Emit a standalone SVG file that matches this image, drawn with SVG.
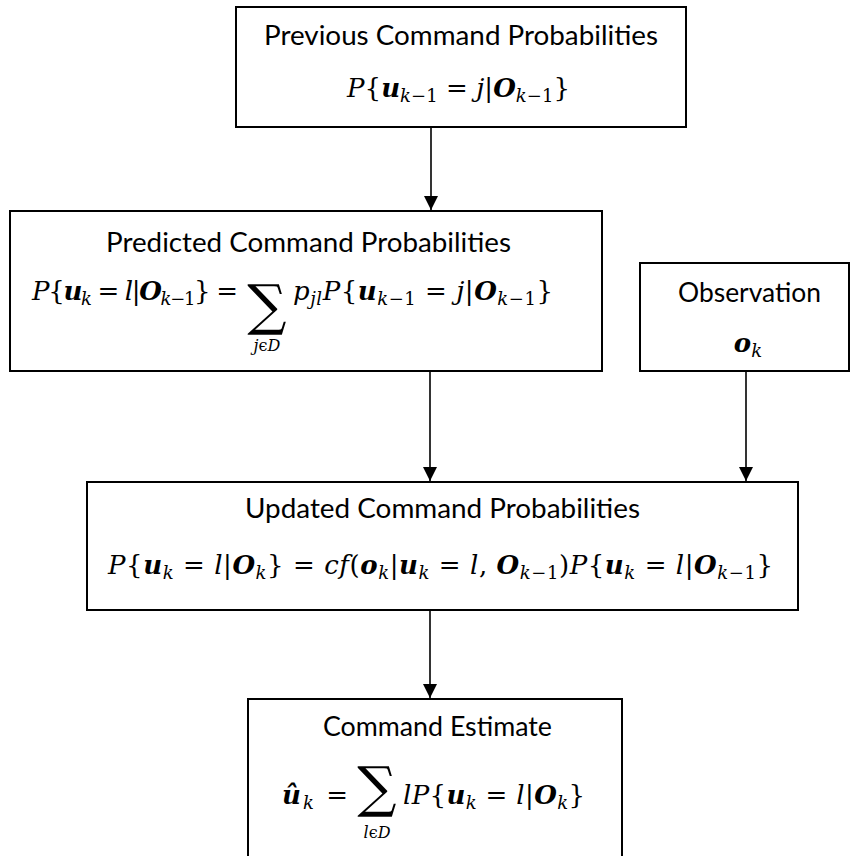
<svg xmlns="http://www.w3.org/2000/svg" width="851" height="856" viewBox="0 0 851 856">
<defs>
<marker id="arr" viewBox="0 0 14 14" refX="14" refY="7" markerWidth="14" markerHeight="14" markerUnits="userSpaceOnUse" orient="auto">
<path d="M0,0 L14,7 L0,14 Z" fill="#000"/>
</marker>
</defs>
<style>
.box{fill:#fff;stroke:#000;stroke-width:2}
.t{font-family:Lato,"Liberation Sans",Arial,sans-serif;font-size:26px;fill:#000}
.m{font-family:"DejaVu Serif","Liberation Serif",serif;font-size:26px;fill:#000}
.i{font-style:italic}
.b{font-style:italic;font-weight:bold}
.s{font-size:18px}
.sig{font-family:"DejaVu Serif","Liberation Serif",serif;font-size:55px;fill:#000}
.sd{font-family:"DejaVu Serif","Liberation Serif",serif;font-size:16px;font-style:italic;fill:#000}
.c{stroke:#000;stroke-width:1.6;fill:none;marker-end:url(#arr)}
</style>
<g id="connectors">
<line class="c" x1="431" y1="127" x2="431" y2="210"/>
<line class="c" x1="430" y1="371" x2="430" y2="481"/>
<line class="c" x1="746" y1="371" x2="746" y2="481"/>
<line class="c" x1="430" y1="610" x2="430" y2="698"/>
</g>
<g id="previous">
<rect class="box" x="236" y="7" width="450" height="120"/>
<text class="t" x="264" y="45" textLength="394" lengthAdjust="spacingAndGlyphs">Previous Command Probabilities</text>
<text class="m" x="347" y="97" textLength="223" lengthAdjust="spacing"><tspan class="i">P</tspan>{<tspan class="b">u</tspan><tspan class="s" dy="5"><tspan class="i">k</tspan>−1</tspan><tspan dy="-5"> = </tspan><tspan class="i">j</tspan>|<tspan class="b">O</tspan><tspan class="s" dy="5"><tspan class="i">k</tspan>−1</tspan><tspan dy="-5">}</tspan></text>
</g>
<g id="predicted">
<rect class="box" x="10" y="211" width="592" height="160"/>
<text class="t" x="106" y="252" textLength="405" lengthAdjust="spacingAndGlyphs">Predicted Command Probabilities</text>
<text class="m" x="32" y="300" textLength="206" lengthAdjust="spacing"><tspan class="i">P</tspan>{<tspan class="b">u</tspan><tspan class="s i" dy="5">k</tspan><tspan dy="-5"> = </tspan><tspan class="i">l</tspan>|<tspan class="b">O</tspan><tspan class="s" dy="5"><tspan class="i">k</tspan>−1</tspan><tspan dy="-5">} =</tspan></text>
<text class="sig" x="267" y="324" text-anchor="middle">∑</text>
<text class="sd" x="267" y="351" text-anchor="middle">j<tspan font-style="normal">ϵ</tspan>D</text>
<text class="m" x="293" y="300" textLength="260" lengthAdjust="spacing"><tspan class="i">p</tspan><tspan class="s i" dy="5">jl</tspan><tspan class="i" dy="-5">P</tspan>{<tspan class="b">u</tspan><tspan class="s" dy="5"><tspan class="i">k</tspan>−1</tspan><tspan dy="-5"> = </tspan><tspan class="i">j</tspan>|<tspan class="b">O</tspan><tspan class="s" dy="5"><tspan class="i">k</tspan>−1</tspan><tspan dy="-5">}</tspan></text>
</g>
<g id="observation">
<rect class="box" x="640" y="263" width="209" height="108"/>
<text class="t" x="678" y="302" textLength="143" lengthAdjust="spacingAndGlyphs">Observation</text>
<text class="m" x="748" y="352" text-anchor="middle"><tspan class="b">o</tspan><tspan class="s i" dy="5">k</tspan></text>
</g>
<g id="updated">
<rect class="box" x="87" y="482" width="711" height="128"/>
<text class="t" x="245" y="518" textLength="395" lengthAdjust="spacingAndGlyphs">Updated Command Probabilities</text>
<text class="m" x="108" y="574" textLength="665" lengthAdjust="spacing"><tspan class="i">P</tspan>{<tspan class="b">u</tspan><tspan class="s i" dy="5">k</tspan><tspan dy="-5"> = </tspan><tspan class="i">l</tspan>|<tspan class="b">O</tspan><tspan class="s i" dy="5">k</tspan><tspan dy="-5">} = </tspan><tspan class="i">cf</tspan>(<tspan class="b">o</tspan><tspan class="s i" dy="5">k</tspan><tspan dy="-5">|</tspan><tspan class="b">u</tspan><tspan class="s i" dy="5">k</tspan><tspan dy="-5"> = </tspan><tspan class="i">l</tspan>, <tspan class="b">O</tspan><tspan class="s" dy="5"><tspan class="i">k</tspan>−1</tspan><tspan dy="-5">)</tspan><tspan class="i">P</tspan>{<tspan class="b">u</tspan><tspan class="s i" dy="5">k</tspan><tspan dy="-5"> = </tspan><tspan class="i">l</tspan>|<tspan class="b">O</tspan><tspan class="s" dy="5"><tspan class="i">k</tspan>−1</tspan><tspan dy="-5">}</tspan></text>
</g>
<g id="estimate">
<rect class="box" x="248" y="699" width="374" height="170"/>
<text class="t" x="323" y="736" textLength="229" lengthAdjust="spacingAndGlyphs">Command Estimate</text>
<text class="m" x="282" y="804" textLength="66" lengthAdjust="spacing"><tspan class="b">û</tspan><tspan class="s i" dy="5">k</tspan><tspan dy="-5"> =</tspan></text>
<text class="sig" x="377" y="806" text-anchor="middle">∑</text>
<text class="sd" x="377" y="838" text-anchor="middle">l<tspan font-style="normal">ϵ</tspan>D</text>
<text class="m" x="403" y="804" textLength="182" lengthAdjust="spacing"><tspan class="i">lP</tspan>{<tspan class="b">u</tspan><tspan class="s i" dy="5">k</tspan><tspan dy="-5"> = </tspan><tspan class="i">l</tspan>|<tspan class="b">O</tspan><tspan class="s i" dy="5">k</tspan><tspan dy="-5">}</tspan></text>
</g>
</svg>
